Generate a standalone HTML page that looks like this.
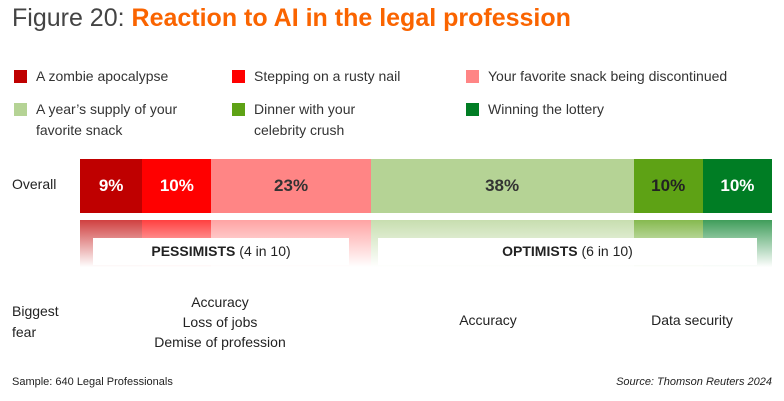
<!DOCTYPE html>
<html><head><meta charset="utf-8"><style>
body{margin:0;width:784px;height:401px;background:#fff;font-family:"Liberation Sans",sans-serif;overflow:hidden;position:relative;color:#222}
.abs{position:absolute}
.title{left:12px;top:4px;font-size:25px;color:#444;white-space:nowrap}
.title b{color:#fa6400}
.leg{font-size:14px;color:#333;line-height:21px}
.sw{position:absolute;left:0;top:4px;width:13px;height:13px}
.leg span{position:absolute;left:22px;top:0;white-space:nowrap}
.lbl{font-size:14px;color:#222}
.box{background:#fff;height:27px;line-height:27px;text-align:center;font-size:14px;color:#222}
</style></head><body>
<div class="abs title">Figure 20: <b>Reaction to AI in the legal profession</b></div>
<div id="legend"></div>
<div class="abs lbl" style="left:12px;top:176px">Overall</div>
<div class="abs lbl" style="left:12px;top:301px;line-height:21px">Biggest<br>fear</div>
<div id="chart"></div>
<div class="abs box" style="left:93px;top:238px;width:256px"><b>PESSIMISTS</b> (4 in 10)</div>
<div class="abs box" style="left:378px;top:238px;width:379px"><b>OPTIMISTS</b> (6 in 10)</div>
<div class="abs lbl" style="left:120px;top:292px;width:200px;text-align:center;line-height:20px">Accuracy<br>Loss of jobs<br>Demise of profession</div>
<div class="abs lbl" style="left:388px;top:312px;width:200px;text-align:center">Accuracy</div>
<div class="abs lbl" style="left:592px;top:312px;width:200px;text-align:center">Data security</div>
<div class="abs" style="left:12px;top:376px;font-size:11px;color:#222">Sample: 640 Legal Professionals</div>
<div class="abs" style="right:12px;top:376px;font-size:11px;color:#222;font-style:italic">Source: Thomson Reuters 2024</div>
<script>
const categories=["A zombie apocalypse","Stepping on a rusty nail","Your favorite snack being discontinued","A year\u2019s supply of your favorite snack","Dinner with your celebrity crush","Winning the lottery"];
const values=[9,10,23,38,10,10];
const valueLabels=["9%","10%","23%","38%","10%","10%"];
const colors=["#bf0000","#ff0000","#ff8585","#b5d395","#5ea215","#007d24"];
const textColors=["#fff","#fff","#333","#333","#222","#fff"];
const legPos=[[14,66],[232,66],[466,66],[14,99],[232,99],[466,99]];
const legText=["A zombie apocalypse","Stepping on a rusty nail","Your favorite snack being discontinued","A year\u2019s supply of your<br>favorite snack","Dinner with your<br>celebrity crush","Winning the lottery"];
const lg=document.getElementById('legend');
categories.forEach((c,i)=>{
  const d=document.createElement('div');d.className='abs leg';
  d.style.left=legPos[i][0]+'px';d.style.top=legPos[i][1]+'px';
  
  
  d.innerHTML='<div class="sw" style="background:'+colors[i]+'"></div><span>'+legText[i]+'</span>';
  lg.appendChild(d);
});
const X0=80,X1=772,barTop=159,barH=54,gTop=220,gH=105;
const total=values.reduce((a,b)=>a+b,0);
const xs=v=>X0+(X1-X0)*v/total;
const ch=document.getElementById('chart');
let acc=0;
values.forEach((v,i)=>{
  const x=xs(acc),w=xs(acc+v)-x;acc+=v;
  const b=document.createElement('div');b.className='abs';
  
  
  b.style.cssText='left:'+x+'px;top:'+barTop+'px;width:'+w+'px;height:'+barH+'px;background:'+colors[i]+';color:'+textColors[i]+';font-weight:bold;font-size:17px;line-height:'+barH+'px;text-align:center';
  b.textContent=valueLabels[i];ch.appendChild(b);
  const g=document.createElement('div');g.className='abs';
  
  
  g.style.cssText='left:'+x+'px;top:'+gTop+'px;width:'+w+'px;height:'+gH+'px;opacity:0.75;background:linear-gradient(to bottom,'+colors[i]+',rgba(255,255,255,0.6) 45%,rgba(255,255,255,0))';
  ch.insertBefore(g,ch.firstChild);
});
</script>
</body></html>
